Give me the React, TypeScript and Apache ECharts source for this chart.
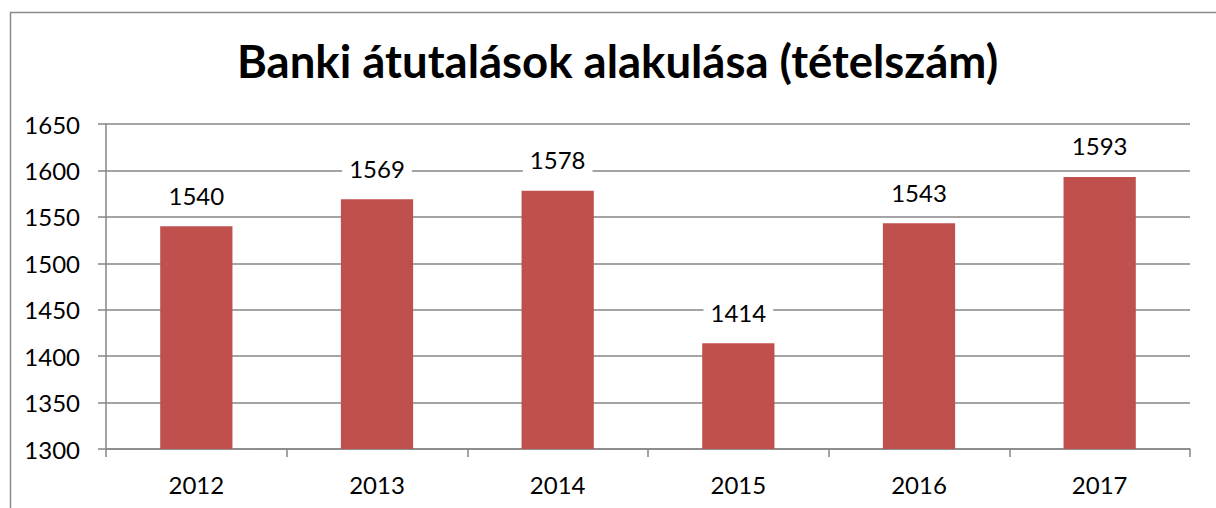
import React, { useEffect, useRef } from "react";
import * as echarts from "echarts";

const categories = ["2012", "2013", "2014", "2015", "2016", "2017"];
const values = [1540, 1569, 1578, 1414, 1543, 1593];
const yMin = 1300;
const yMax = 1650;
const yStep = 50;
const titleText = "Banki átutalások alakulása (tételszám)";

export default function App() {
  const ref = useRef<HTMLDivElement>(null);
  useEffect(() => {
    if (!ref.current) return;
    const chart = echarts.init(ref.current, null, { renderer: "svg" });
    const font = "Lato, 'Open Sans', sans-serif";
    chart.setOption({
      animation: false,
      backgroundColor: "#ffffff",
      title: {
        text: titleText,
        left: 232,
        top: 32,
        textStyle: { fontFamily: font, fontWeight: "bold", fontSize: 45.5, color: "#000" },
      },
      graphic: [
        {
          type: "rect",
          shape: { x: 10.5, y: 12.5, width: 1300, height: 600 },
          style: { fill: "none", stroke: "#8c8c8c", lineWidth: 1.5 },
          silent: true,
        },
      ],
      grid: { left: 106, right: 26, top: 124, bottom: 59 },
      xAxis: {
        type: "category",
        data: categories,
        axisLine: { lineStyle: { color: "#868686", width: 1.5 } },
        axisTick: { show: true, length: 8, lineStyle: { color: "#868686", width: 1.5 } },
        axisLabel: { fontFamily: font, fontSize: 24, color: "#000", margin: 23 },
      },
      yAxis: {
        type: "value",
        min: yMin,
        max: yMax,
        interval: yStep,
        axisLine: { show: true, lineStyle: { color: "#868686", width: 1.5 } },
        axisTick: { show: true, length: 8, lineStyle: { color: "#868686", width: 1.5 } },
        axisLabel: {
          fontFamily: font,
          fontSize: 24,
          color: "#000",
          margin: 26,
          formatter: (v: number) => String(v),
        },
        splitLine: { lineStyle: { color: "#868686", width: 1.5 } },
      },
      series: [
        {
          type: "bar",
          data: values,
          barWidth: "40%",
          itemStyle: { color: "#C0504D" },
          label: {
            show: true,
            position: "top",
            distance: 16,
            fontFamily: font,
            fontSize: 24,
            color: "#000",
            backgroundColor: "#ffffff",
            padding: [3, 7],
          },
        },
      ],
    });
    return () => chart.dispose();
  }, []);
  return (
    <div
      ref={ref}
      style={{ position: "fixed", left: 0, top: 0, width: 1216, height: 508 }}
    />
  );
}
